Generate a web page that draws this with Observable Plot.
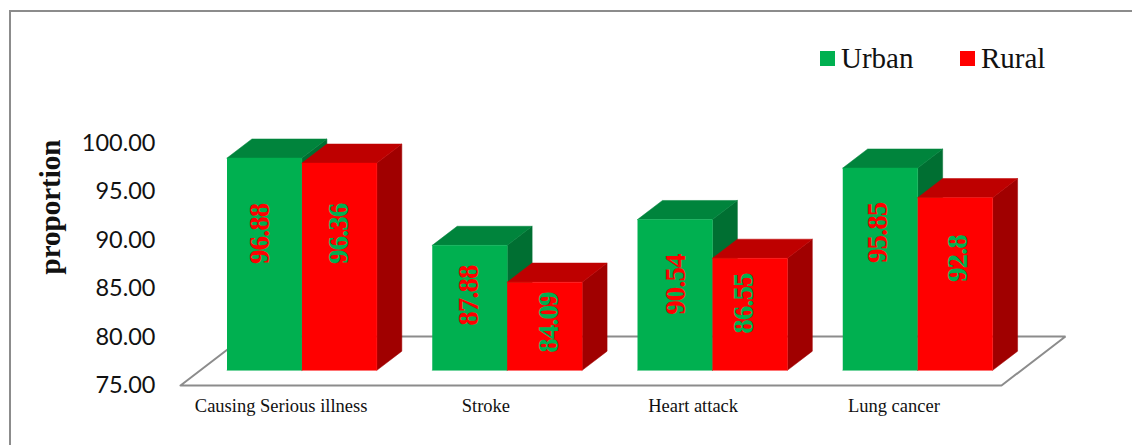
<!DOCTYPE html>
<html><head><meta charset="utf-8">
<script src="https://cdn.jsdelivr.net/npm/d3@7"></script>
<script src="https://cdn.jsdelivr.net/npm/@observablehq/plot@0.6"></script>
<style>
html,body{margin:0;padding:0;background:#fff;overflow:hidden}
#page{position:relative;width:1132px;height:445px;overflow:hidden}
#frame{position:absolute;left:9px;top:10px;width:1140px;height:450px;border-top:2px solid #8c8c8c;border-left:2px solid #8c8c8c;box-sizing:border-box}
svg{position:absolute;left:0;top:0;overflow:visible}
.leg{position:absolute;font:29px "Liberation Serif",serif;color:#111;line-height:1}
.sw{position:absolute;width:15px;height:15px}
</style></head><body>
<div id="page"><div id="frame"></div><div id="chart"></div>
<div class="sw" style="left:820px;top:51px;background:#00B050"></div><div class="leg" style="left:841px;top:44px">Urban</div>
<div class="sw" style="left:960px;top:51px;background:#FF0000"></div><div class="leg" style="left:981px;top:44px">Rural</div>
</div>
<script>
const categories = ["Causing Serious illness", "Stroke", "Heart attack", "Lung cancer"];
const urban = [96.88, 87.88, 90.54, 95.85];
const rural = [96.36, 84.09, 86.55, 92.8];
const urbanLabels = ["96.88", "87.88", "90.54", "95.85"];
const ruralLabels = ["96.36", "84.09", "86.55", "92.8"];
const yTicks = [75, 80, 85, 90, 95, 100];

const GREEN = {front:"#00B050", top:"#00843C", side:"#006F32"};
const RED = {front:"#FF0000", top:"#BE0000", side:"#A00000"};
const BASE = 75;
const slotPx = 205.4;
// oblique projection: depth 0 = front of floor, depth 1 = back of floor
const skewX = 64 / slotPx, skewY = 49 / 9.7;
const P = (slot, value, depth) => ({x: slot + depth * skewX, y: value + depth * skewY});
const barW = 75 / slotPx, gap = 26.7 / slotPx, d0 = 0.31, d1 = 0.70;

const faces = [];
function addBar(id, left, value, c) {
  const right = left + barW;
  const face = (name, color, pts) => pts.forEach(p => faces.push({...p, face: id + name, color}));
  face("side", c.side, [P(right, BASE, d0), P(right, BASE, d1), P(right, value, d1), P(right, value, d0)]);
  face("top", c.top, [P(left, value, d0), P(left, value, d1), P(right, value, d1), P(right, value, d0)]);
  face("front", c.front, [P(left, BASE, d0), P(right, BASE, d0), P(right, value, d0), P(left, value, d0)]);
}
categories.forEach((c, i) => {
  addBar("u" + i, i + gap, urban[i], GREEN);
  addBar("r" + i, i + gap + barW, rural[i], RED);
});
const floor = [P(0, BASE, 0), P(4, BASE, 0), P(4, BASE, 1), P(0, BASE, 1), P(0, BASE, 0)];

// hand-placed data labels of the original, in axis units and in fractions of a category slot
const labelUrbanSlot = [0.385, 1.404, 2.415, 3.398];
const labelRuralSlot = [0.770, 1.793, 2.746, 3.788];
const labelUrbanY = [90.64, 84.26, 85.39, 90.74];
const labelRuralY = [90.64, 81.48, 83.44, 88.07];
const valueLabels = categories.flatMap((c, i) => [
  {x: labelUrbanSlot[i], y: labelUrbanY[i], t: urbanLabels[i], color: "#FF0000"},
  {x: labelRuralSlot[i], y: labelRuralY[i], t: ruralLabels[i], color: "#00B050"}
]);
const nudge = [-2, -2.5, -0.5, -5];
const catLabels = categories.map((c, i) => ({x: i + 0.5 + nudge[i] / slotPx, y: BASE, t: c}));

const chart = Plot.plot({
  width: 1132, height: 445,
  marginLeft: 180, marginRight: 131, marginTop: 142.5, marginBottom: 60,
  style: {background: "transparent", overflow: "visible"},
  x: {domain: [0, 4], axis: null},
  y: {domain: [75, 100], axis: null},
  color: {type: "identity"},
  marks: [
    Plot.axisY(yTicks, {anchor: "left", tickSize: 0, tickPadding: 25, tickFormat: d3.format(".2f"), label: null,
      fontFamily: "Lato, Carlito, sans-serif", fontSize: 23.5, fill: "#111"}),
    Plot.line(floor, {x: "x", y: "y", stroke: "#8c8c8c", strokeWidth: 2, strokeLinejoin: "miter"}),
    Plot.line(faces, {x: "x", y: "y", z: "face", fill: "color", stroke: "color", strokeWidth: 0.5}),
    Plot.text(valueLabels, {x: "x", y: "y", text: "t", fill: "color", rotate: -90, fontFamily: "Liberation Serif", fontWeight: "bold", fontSize: 29, lineAnchor: "middle",
      render(index, scales, values, dims, ctx, next) {
        const g = next(index, scales, values, dims, ctx);
        g.querySelectorAll("text").forEach(t => t.style.letterSpacing = "-1px");
        return g;
      }}),
    Plot.text(catLabels, {x: "x", y: "y", text: "t", dy: 21, fontFamily: "Liberation Serif", fontSize: 18.5, fill: "#111"}),
    Plot.text(["proportion"], {frameAnchor: "left", textAnchor: "middle", dx: -130, y: [93.4], rotate: -90, fontFamily: "Liberation Serif", fontWeight: "bold", fontSize: 29, fill: "#111", lineAnchor: "middle"})
  ]
});
document.getElementById("chart").appendChild(chart);
</script></body></html>
